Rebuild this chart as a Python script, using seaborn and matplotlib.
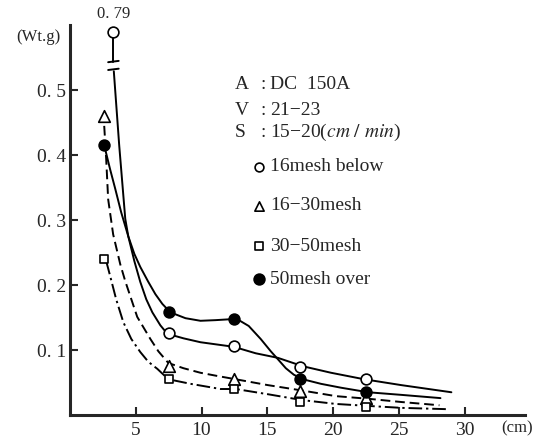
import numpy as np
import pandas as pd
import matplotlib
import matplotlib.pyplot as plt
import seaborn as sns

sns.set_style("ticks")
plt.rcParams["font.family"] = ["Liberation Serif", "DejaVu Serif"]
plt.rcParams["mathtext.fontset"] = "stix"

# --- measured points (distance cm, weight g) ---
dist = [2.6, 7.5, 12.5, 17.5, 22.5]
dist_open = [3.3, 7.5, 12.5, 17.5, 22.5]   # first open circle shifted right of the others
w_16below = [0.79, 0.126, 0.106, 0.074, 0.055]
w_16_30 = [0.46, 0.075, 0.055, 0.037, 0.026]
w_30_50 = [0.24, 0.055, 0.040, 0.020, 0.012]
w_50over = [0.415, 0.158, 0.148, 0.055, 0.035]

# --- fitted curves ---
c16below_x = [3.33, 3.74, 4.20, 4.43, 4.89, 5.34, 5.80, 6.26, 6.87, 7.40, 8.63, 9.92,
              12.44, 14.12, 15.80, 17.71, 19.85, 22.37, 25.19, 29.0]
c16below_y = [0.529, 0.415, 0.302, 0.275, 0.237, 0.205, 0.178, 0.158, 0.138, 0.125, 0.118, 0.112,
              0.105, 0.095, 0.088, 0.075, 0.065, 0.055, 0.046, 0.035]

c50over_x = [2.60, 3.05, 3.44, 3.89, 4.43, 4.89, 5.34, 5.95, 6.49, 7.02, 7.63, 8.78, 9.92,
             11.07, 12.67, 13.59, 14.50, 15.27, 15.80, 16.41, 17.02, 17.71, 19.08, 20.61,
             22.67, 25.19, 28.17]
c50over_y = [0.415, 0.378, 0.348, 0.312, 0.275, 0.248, 0.228, 0.205, 0.186, 0.171, 0.158, 0.149,
             0.145, 0.146, 0.148, 0.137, 0.117, 0.098, 0.086, 0.072, 0.062, 0.055, 0.048, 0.042,
             0.035, 0.031, 0.026]

c16_30_x = [2.60, 2.75, 2.90, 3.28, 3.82, 4.20, 5.11, 6.11, 6.72, 7.48, 8.63, 9.92, 11.22,
            12.60, 15.04, 17.56, 20.23, 22.67, 25.19, 28.09]
c16_30_y = [0.445, 0.394, 0.332, 0.278, 0.232, 0.206, 0.151, 0.117, 0.098, 0.080, 0.072, 0.065,
            0.060, 0.055, 0.046, 0.038, 0.029, 0.025, 0.020, 0.015]

c30_50_x = [2.75, 3.05, 3.51, 4.05, 4.66, 5.34, 5.95, 6.64, 7.48, 9.16, 11.45, 12.60, 15.04,
            17.63, 20.23, 22.67, 25.19, 28.63]
c30_50_y = [0.237, 0.214, 0.178, 0.143, 0.117, 0.097, 0.082, 0.071, 0.055, 0.048, 0.040, 0.040,
            0.032, 0.023, 0.017, 0.014, 0.011, 0.009]

x_ticks = [5, 10, 15, 20, 25, 30]
y_ticks = [0.1, 0.2, 0.3, 0.4, 0.5]
y_ticklabels = ["0. 1", "0. 2", "0. 3", "0. 4", "0. 5"]

Y_TOP = 0.6
OFFSCALE_Y = 0.589   # where an off-scale point is drawn
BREAK_Y = [0.543, 0.531]

fig = plt.figure(figsize=(5.37, 4.43), dpi=100)
ax = fig.add_axes([0.1304, 0.0632, 0.8473, 0.880])

LW = 1.4
sns.lineplot(x=c16below_x, y=c16below_y, ax=ax, color="black", lw=LW, sort=False, estimator=None)
sns.lineplot(x=c50over_x, y=c50over_y, ax=ax, color="black", lw=LW, sort=False, estimator=None)
sns.lineplot(x=c16_30_x, y=c16_30_y, ax=ax, color="black", lw=LW, sort=False, estimator=None,
             linestyle=(0, (5, 2.5)))
sns.lineplot(x=c30_50_x, y=c30_50_y, ax=ax, color="black", lw=LW, sort=False, estimator=None,
             linestyle=(0, (7, 2, 1.2, 2)))

# broken-axis stem for the 0.79 point
top_y = min(w_16below[0], OFFSCALE_Y)
ax.plot([dist_open[0], dist_open[0]], [top_y, BREAK_Y[0]], color="black", lw=LW)
for by in BREAK_Y:
    ax.plot([dist_open[0] - 0.4, dist_open[0] + 0.4], [by, by + 0.002], color="black", lw=LW)

y_open = [min(v, OFFSCALE_Y) for v in w_16below]
pts = pd.DataFrame({"x": dist_open, "y": y_open})
sns.scatterplot(data=pts, x="x", y="y", ax=ax, marker="o", s=60, facecolor="white",
                edgecolor="black", linewidth=1.2, zorder=5)
sns.scatterplot(x=dist, y=w_16_30, ax=ax, marker="^", s=70, facecolor="white",
                edgecolor="black", linewidth=1.2, zorder=5)
sns.scatterplot(x=dist, y=w_30_50, ax=ax, marker="s", s=40, facecolor="white",
                edgecolor="black", linewidth=1.2, zorder=5)
sns.scatterplot(x=dist, y=w_50over, ax=ax, marker="o", s=60, facecolor="black",
                edgecolor="black", linewidth=1.2, zorder=6)

ax.text(dist_open[0], 0.617, "0. 79", ha="center", va="center", fontsize=12, clip_on=False)

ax.set_xlim(0, 34.6)
ax.set_ylim(0, Y_TOP)
ax.set_xticks(x_ticks)
ax.set_xticklabels([str(t) for t in x_ticks])
ax.set_yticks(y_ticks)
ax.set_yticklabels(y_ticklabels)
ax.tick_params(direction="in", length=6, width=1.5, labelsize=14)
ax.tick_params(axis="y", pad=3)
ax.tick_params(axis="x", pad=5)
ax.set_xlabel("")
ax.set_ylabel("")
for side in ["top", "right"]:
    ax.spines[side].set_visible(False)
for side in ["left", "bottom"]:
    ax.spines[side].set_linewidth(2.2)

fig.text(38 / 537, 1 - 37 / 443, "(Wt.g)", ha="center", va="center", fontsize=12)
fig.text(517 / 537, 1 - 428 / 443, "(cm)", ha="center", va="center", fontsize=12)

# conditions block
cond_y = [0.508, 0.468, 0.435]
cond_key = ["A", "V", "S"]
cond_val = ["DC  150A", "21\u221223", "15\u221220(" + r"$\mathit{cm\ /\ min}$" + ")"]
for yy, k, v in zip(cond_y, cond_key, cond_val):
    ax.text(12.5, yy, k, ha="left", va="center", fontsize=14)
    ax.text(14.45, yy, ":", ha="left", va="center", fontsize=14)
    ax.text(15.2, yy, v, ha="left", va="center", fontsize=14)

# legend drawn as in the original figure
leg_y = [0.382, 0.322, 0.260, 0.209]
leg_text = ["16mesh below", "16\u221230mesh", "30\u221250mesh", "50mesh over"]
leg_marker = ["o", "^", "s", "o"]
leg_face = ["white", "white", "white", "black"]
leg_size = [40, 45, 28, 60]
for yy, t, m, fc, s in zip(leg_y, leg_text, leg_marker, leg_face, leg_size):
    ax.scatter([14.35], [yy], marker=m, s=s, facecolor=fc, edgecolor="black", linewidth=1.2)
    ax.text(15.2, yy, t, ha="left", va="center", fontsize=14)

plt.savefig("out.png", dpi=100)
plt.close()
